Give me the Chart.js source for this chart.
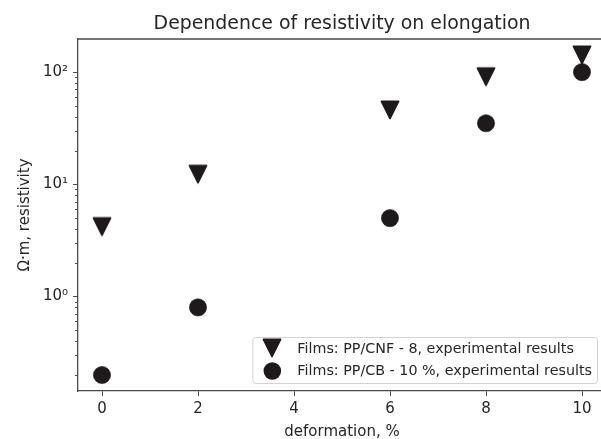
<!DOCTYPE html>
<html><head><meta charset="utf-8">
<script src="https://cdn.jsdelivr.net/npm/chart.js@4.4.1/dist/chart.umd.min.js"></script>
<style>
html,body{margin:0;padding:0;background:#fff;overflow:hidden;}
#wrap{width:624px;height:439px;position:relative;}
</style></head><body>
<div id="wrap"><canvas id="c" width="624" height="439"></canvas></div>
<script>
// ---- data ----
const deformation = [0, 2, 6, 8, 10];
const cnfResistivity = [4.2, 12.3, 46, 91, 142];
const cbResistivity = [0.2, 0.8, 5.0, 35, 100];
const seriesLabels = ['Films: PP/CNF - 8, experimental results', 'Films: PP/CB - 10 %, experimental results'];
const xTicks = [0, 2, 4, 6, 8, 10];
const yMajorTicks = [1, 10, 100];
const yMajorLabels = ['10\u2070', '10\u00b9', '10\u00b2'];
const titleText = 'Dependence of resistivity on elongation';
const xTitle = 'deformation, %';
const yTitle = '\u03a9\u00b7m, resistivity';

// ---- style ----
const FONT = "'DejaVu Sans', sans-serif";
const textColor = '#262626';
const markerColor = '#1e1a1c';
const spineColor = '#4a4a4a';
const spineW = 1.3;

// axis ranges (matplotlib-like 5% margins)
const xMinD = Math.min(...deformation), xMaxD = Math.max(...deformation);
const xm = 0.05 * (xMaxD - xMinD);
const allY = cnfResistivity.concat(cbResistivity);
const lmin = Math.log10(Math.min(...allY)), lmax = Math.log10(Math.max(...allY));
const lm = 0.05 * (lmax - lmin);
const yMin = Math.pow(10, lmin - lm), yMax = Math.pow(10, lmax + lm);

// minor tick values on log axis
const yMinorTicks = [];
for (let k = Math.floor(lmin - lm); k <= Math.ceil(lmax + lm); k++) {
  for (let d = 2; d <= 9; d++) {
    const v = d * Math.pow(10, k);
    if (v >= yMin && v <= yMax) yMinorTicks.push(v);
  }
}

function makeTriangle() {
  const c = document.createElement('canvas');
  c.width = 24; c.height = 24;
  const g = c.getContext('2d');
  const h = 8.6;
  g.fillStyle = markerColor; g.strokeStyle = markerColor;
  g.lineWidth = 1.6; g.lineJoin = 'round';
  g.beginPath();
  g.moveTo(12 - h, 12 - h); g.lineTo(12 + h, 12 - h); g.lineTo(12, 12 + h);
  g.closePath(); g.fill(); g.stroke();
  return c;
}
const triImg = makeTriangle();

const decor = {
  id: 'decor',
  afterDraw(chart) {
    const {ctx, chartArea: a, scales} = chart;
    ctx.save();
    // top and right spines
    ctx.strokeStyle = spineColor; ctx.lineWidth = spineW;
    ctx.beginPath();
    ctx.moveTo(a.left, a.top); ctx.lineTo(a.right, a.top);
    ctx.moveTo(a.right, a.top); ctx.lineTo(a.right, a.bottom);
    ctx.stroke();
    // minor ticks on y
    ctx.lineWidth = 1;
    ctx.beginPath();
    yMinorTicks.forEach(v => {
      const py = Math.round(scales.y.getPixelForValue(v)) + 0.5;
      ctx.moveTo(a.left - 3, py); ctx.lineTo(a.left, py);
    });
    ctx.stroke();
    // title
    ctx.fillStyle = textColor;
    ctx.font = '18.9px ' + FONT;
    ctx.textAlign = 'center'; ctx.textBaseline = 'alphabetic';
    ctx.fillText(titleText, (a.left + a.right) / 2, 28.5);
    // legend
    ctx.font = '14.3px ' + FONT;
    const tw = Math.max(...seriesLabels.map(s => ctx.measureText(s).width));
    const R = a.right - 9, B = a.bottom - 8;
    const W = 45 + tw + 5, H = 46;
    const L = R - W, T = B - H;
    ctx.beginPath();
    ctx.roundRect(L + 0.5, T + 0.5, W, H, 3);
    ctx.fillStyle = 'rgba(255,255,255,0.8)'; ctx.fill();
    ctx.strokeStyle = '#d3d3d3'; ctx.lineWidth = 1; ctx.stroke();
    const hx = L + 20;
    ctx.drawImage(triImg, Math.round(hx - 12), Math.round(B - 35 - 12));
    ctx.beginPath(); ctx.arc(hx, B - 12, 8.8, 0, Math.PI * 2);
    ctx.fillStyle = markerColor; ctx.fill();
    ctx.fillStyle = textColor; ctx.textAlign = 'left';
    ctx.fillText(seriesLabels[0], L + 45, B - 30);
    ctx.fillText(seriesLabels[1], L + 45, B - 8);
    ctx.restore();
  }
};

new Chart(document.getElementById('c'), {
  type: 'scatter',
  data: {
    datasets: [
      { label: seriesLabels[0], data: deformation.map((x, i) => ({x, y: cnfResistivity[i]})),
        pointStyle: triImg, backgroundColor: markerColor, borderColor: markerColor },
      { label: seriesLabels[1], data: deformation.map((x, i) => ({x, y: cbResistivity[i]})),
        pointStyle: 'circle', pointRadius: 8.6, borderWidth: 0.6,
        backgroundColor: markerColor, borderColor: markerColor }
    ]
  },
  options: {
    responsive: false, animation: false, devicePixelRatio: 1, events: [],
    layout: { padding: { top: 39, right: 18, left: 0, bottom: 0 } },
    plugins: { legend: { display: false }, title: { display: false }, tooltip: { enabled: false } },
    scales: {
      x: {
        type: 'linear', min: xMinD - xm, max: xMaxD + xm,
        afterBuildTicks: s => { s.ticks = xTicks.map(v => ({value: v})); },
        afterFit: s => { s.height = 48; },
        grid: { display: true, drawOnChartArea: false, drawTicks: true, tickLength: 5, color: spineColor, tickWidth: 1 },
        border: { display: true, color: spineColor, width: spineW },
        ticks: { color: textColor, font: { family: FONT, size: 15, lineHeight: 1.2 }, padding: 4.5, maxRotation: 0, autoSkip: false },
        title: { display: true, text: xTitle, color: textColor, font: { family: FONT, size: 15, lineHeight: 0.8 }, padding: { top: 0, bottom: 0.5 } }
      },
      y: {
        type: 'logarithmic', min: yMin, max: yMax,
        afterBuildTicks: s => { s.ticks = yMajorTicks.map(v => ({value: v, major: true})); },
        afterFit: s => { s.width = 78; },
        grid: { display: true, drawOnChartArea: false, drawTicks: true, tickLength: 5, color: spineColor, tickWidth: 1 },
        border: { display: true, color: spineColor, width: spineW },
        ticks: { color: textColor, font: { family: FONT, size: 15 }, padding: 5, autoSkip: false,
                 callback: (v, i) => yMajorLabels[i] },
        title: { display: true, text: yTitle, color: textColor, font: { family: FONT, size: 15, lineHeight: 1.2 }, padding: { top: 16.5, bottom: 0 } }
      }
    }
  },
  plugins: [decor]
});
</script>
</body></html>
